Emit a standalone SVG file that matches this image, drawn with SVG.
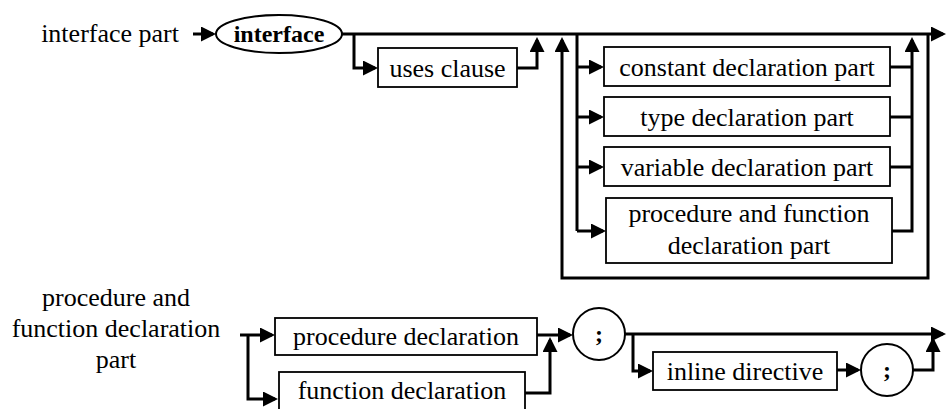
<svg xmlns="http://www.w3.org/2000/svg" width="946" height="409" viewBox="0 0 946 409">
  <defs>
    <marker id="arrow" markerUnits="userSpaceOnUse" markerWidth="15" markerHeight="15" refX="12" refY="7.5" orient="auto">
      <path d="M0,0 L15,7.5 L0,15 Z" fill="#000"/>
    </marker>
    <style>
      text { font-family: "Liberation Serif", "Times New Roman", serif; font-size: 26px; fill: #000; }
      .c { text-anchor: middle; }
      .kw { font-weight: bold; font-size: 24px; text-anchor: middle; }
      .box { fill: #fff; stroke: #000; stroke-width: 1.8; }
      .term { fill: #fff; stroke: #000; stroke-width: 2; }
      .wire { fill: none; stroke: #000; stroke-width: 3; }
      .arr { marker-end: url(#arrow); }
    </style>
  </defs>
  <rect width="946" height="409" fill="#fff"/>

  <!-- rule labels -->
  <g id="label-interface-part">
    <text x="179" y="42" text-anchor="end">interface part</text>
  </g>
  <g id="label-proc-func-part">
    <text class="c" x="116" y="306">procedure and</text>
    <text class="c" x="116" y="337">function declaration</text>
    <text class="c" x="116" y="368">part</text>
  </g>

  <!-- connectors -->
  <g id="connectors">
    <!-- interface part -->
    <path class="wire arr" d="M193,34 H213"/>
    <path class="wire arr" d="M342,34 H943"/>
    <path class="wire arr" d="M354,34 V68 H375"/>
    <path class="wire arr" d="M517,68 H537 V40"/>
    <path class="wire arr" d="M928,34 V278 H562 V40"/>
    <path class="wire" d="M577,34 V231"/>
    <path class="wire arr" d="M577,67 H601"/>
    <path class="wire arr" d="M577,117 H601"/>
    <path class="wire arr" d="M577,167 H601"/>
    <path class="wire arr" d="M577,231 H603"/>
    <path class="wire" d="M890,67 H912"/>
    <path class="wire" d="M890,117 H912"/>
    <path class="wire" d="M890,167 H912"/>
    <path class="wire arr" d="M892,231 H912 V40"/>
    <!-- procedure and function declaration part -->
    <path class="wire arr" d="M240,335 H272"/>
    <path class="wire arr" d="M248,335 V399 H275"/>
    <path class="wire arr" d="M537,335 H570"/>
    <path class="wire arr" d="M525,393 H550 V340"/>
    <path class="wire arr" d="M625,334 H943"/>
    <path class="wire arr" d="M633,334 V371 H650"/>
    <path class="wire arr" d="M837,370 H858"/>
    <path class="wire arr" d="M913,370 H933 V340"/>
  </g>

  <!-- nodes: interface part -->
  <g id="kw-interface">
    <ellipse class="term" cx="279" cy="34" rx="63" ry="19"/>
    <text class="kw" x="279" y="42">interface</text>
  </g>
  <g id="uses-clause">
    <rect class="box" x="378" y="48" width="139" height="39"/>
    <text class="c" x="447.5" y="77">uses clause</text>
  </g>
  <g id="constant-declaration-part">
    <rect class="box" x="604" y="47" width="286" height="39"/>
    <text class="c" x="747" y="76">constant declaration part</text>
  </g>
  <g id="type-declaration-part">
    <rect class="box" x="604" y="97" width="286" height="39"/>
    <text class="c" x="747" y="126">type declaration part</text>
  </g>
  <g id="variable-declaration-part">
    <rect class="box" x="604" y="147" width="286" height="39"/>
    <text class="c" x="747" y="176">variable declaration part</text>
  </g>
  <g id="proc-func-declaration-part">
    <rect class="box" x="606" y="198" width="286" height="65"/>
    <text class="c" x="749" y="222">procedure and function</text>
    <text class="c" x="749" y="254">declaration part</text>
  </g>

  <!-- nodes: procedure and function declaration part -->
  <g id="procedure-declaration">
    <rect class="box" x="275" y="318" width="262" height="37"/>
    <text class="c" x="406" y="345">procedure declaration</text>
  </g>
  <g id="function-declaration">
    <rect class="box" x="279" y="372" width="246" height="50"/>
    <text class="c" x="402" y="399">function declaration</text>
  </g>
  <g id="semicolon-1">
    <circle class="term" cx="599" cy="334" r="26"/>
    <text class="kw" x="599" y="342">;</text>
  </g>
  <g id="inline-directive">
    <rect class="box" x="653" y="352" width="184" height="38"/>
    <text class="c" x="745" y="380">inline directive</text>
  </g>
  <g id="semicolon-2">
    <circle class="term" cx="887" cy="370" r="26"/>
    <text class="kw" x="887" y="378">;</text>
  </g>
</svg>
